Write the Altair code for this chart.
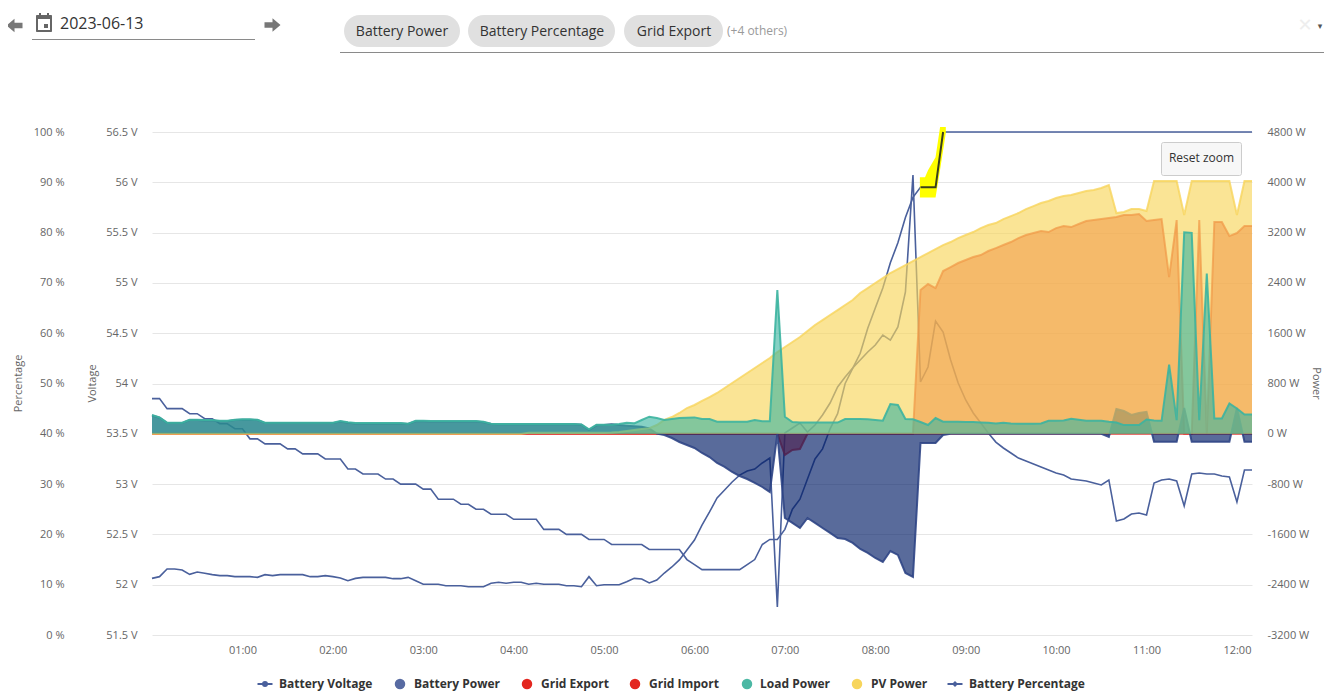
import altair as alt
import pandas as pd

FONT = "Open Sans"
LINE_BLUE = "#4a609c"
FILL_BLUE = "#001b65"
EDGE_BLUE = "#2f4585"
RED = "#e3261f"
GREEN = "#3cb4a0"
YELLOW = "#f7d55c"

# Five-minute samples, 00:00 to 12:10
battery_percentage = [
    47, 47, 45, 45, 45, 44, 44, 43, 43, 42, 42, 41, 41, 39, 39, 38, 38, 38, 37, 37,
    36, 36, 36, 35, 35, 35, 33, 33, 32, 32, 32, 31, 31, 30, 30, 30, 29, 29, 27, 27,
    27, 26, 26, 25, 25, 24, 24, 24, 23, 23, 23, 23, 21, 21, 21, 20, 20, 20, 19, 19,
    19, 18, 18, 18, 18, 18, 17, 17, 17, 17, 17, 15, 14, 13, 13, 13, 13, 13, 13, 14,
    15, 18, 19, 19, 21, 25, 27, 31, 35, 37, 41, 44, 50, 53, 56, 61, 65, 69, 74, 78,
    83, 87, 89, 89, 89, 100, 100, 100, 100, 100, 100, 100, 100, 100, 100, 100, 100, 100, 100, 100,
    100, 100, 100, 100, 100, 100, 100, 100, 100, 100, 100, 100, 100, 100, 100, 100, 100, 100, 100, 100,
    100, 100, 100, 100, 100, 100, 100,
]
battery_voltage = [
    52.063, 52.080, 52.156, 52.156, 52.146, 52.103, 52.126, 52.113, 52.100, 52.090,
    52.090, 52.080, 52.080, 52.080, 52.073, 52.100, 52.090, 52.100, 52.100, 52.100,
    52.100, 52.080, 52.080, 52.090, 52.080, 52.067, 52.040, 52.063, 52.073, 52.073,
    52.073, 52.073, 52.060, 52.060, 52.073, 52.040, 52.004, 52.004, 52.004, 51.990,
    51.990, 51.990, 51.980, 51.980, 51.980, 52.014, 52.024, 52.014, 52.024, 52.024,
    52.004, 52.014, 52.004, 52.004, 52.004, 51.990, 51.990, 51.980, 52.080, 51.990,
    52.000, 52.000, 52.000, 52.030, 52.063, 52.057, 52.017, 52.047, 52.116, 52.176,
    52.246, 52.345, 52.444, 52.593, 52.723, 52.862, 52.941, 53.021, 53.090, 53.130,
    53.150, 53.210, 53.259, 51.778, 53.508, 53.558, 53.607, 53.518, 53.587, 53.687,
    53.806, 53.965, 54.065, 54.154, 54.233, 54.313, 54.383, 54.482, 54.432, 54.562,
    54.910, 56.073, 54.015, 54.164, 54.621, 54.512, 54.233, 54.005, 53.836, 53.707,
    53.607, 53.508, 53.418, 53.359, 53.309, 53.259, 53.230, 53.200, 53.170, 53.140,
    53.110, 53.090, 53.051, 53.041, 53.031, 53.011, 52.991, 53.041, 52.633, 52.653,
    52.703, 52.713, 52.693, 53.011, 53.041, 53.051, 53.031, 52.782, 53.100, 53.110,
    53.100, 53.100, 53.081, 53.071, 52.822, 53.140, 53.140,
]
load_power = [
    298, 261, 177, 177, 177, 224, 224, 219, 219, 208, 208, 224, 230, 230, 224, 177, 177, 177, 177, 177,
    177, 177, 177, 177, 177, 203, 182, 171, 171, 171, 171, 171, 171, 171, 161, 208, 208, 203, 203, 203,
    203, 203, 203, 203, 192, 161, 155, 155, 155, 155, 155, 155, 155, 155, 155, 155, 155, 150, 71, 145,
    145, 145, 155, 177, 166, 219, 272, 251, 220, 235, 251, 256, 261, 235, 235, 192, 192, 192, 192, 192,
    220, 201, 201, 2286, 272, 188, 178, 178, 178, 178, 178, 178, 235, 235, 235, 230, 220, 209, 474, 458,
    235, 230, 188, 140, 251, 192, 191, 191, 186, 186, 180, 175, 164, 175, 164, 159, 159, 159, 164, 207,
    207, 212, 239, 223, 207, 207, 207, 191, 180, 138, 138, 138, 228, 212, 207, 1102, 217, 3206, 3196, 217,
    2549, 244, 244, 482, 403, 307, 307,
]
battery_power = [
    290, 255, 170, 170, 170, 218, 218, 212, 212, 200, 200, 218, 224, 224, 218, 170, 170, 170, 170, 170,
    170, 170, 170, 170, 170, 195, 175, 165, 165, 165, 165, 165, 165, 165, 155, 200, 200, 196, 196, 196,
    196, 196, 196, 196, 185, 155, 150, 150, 150, 150, 150, 150, 150, 150, 150, 150, 150, 145, 60, 135,
    140, 150, 140, 130, 120, 111, 85, 5, -19, -67, -130, -178, -226, -305, -369, -464, -525, -607, -671, -719,
    -782, -846, -925, 0, -1339, -1418, -1498, -1339, -1418, -1498, -1577, -1657, -1673, -1736, -1832, -1895, -1975, -2039, -1864, -1927,
    -2213, -2276, -146, -146, -146, -19, 0, 0, 0, 0, 0, 0, 0, 0, 0, 0, 0, 0, 0, 0,
    0, 0, 0, 0, 0, 0, 0, -48, 394, 362, 300, 331, 347, -125, -125, -125, -125, 410, -125, -125,
    -125, -125, -125, -125, 410, -125, -125,
]
grid_export = [
    0, 0, 0, 0, 0, 0, 0, 0, 0, 0, 0, 0, 0, 0, 0, 0, 0, 0, 0, 0,
    0, 0, 0, 0, 0, 0, 0, 0, 0, 0, 0, 0, 0, 0, 0, 0, 0, 0, 0, 0,
    0, 0, 0, 0, 0, 0, 0, 0, 0, 0, 0, 0, 0, 0, 0, 0, 0, 0, 0, 0,
    0, 0, 0, 0, 0, 0, 0, 0, 0, 0, 0, 0, 0, 0, 0, 0, 0, 0, 0, 0,
    0, 0, 0, 0, 0, 0, 0, 0, 0, 0, 0, 0, 0, 0, 0, 0, 0, 0, 0, 0,
    0, 0, 2286, 2382, 2318, 2589, 2652, 2716, 2764, 2811, 2843, 2907, 2954, 3002, 3050, 3113, 3161, 3193, 3225, 3209,
    3272, 3304, 3288, 3336, 3384, 3400, 3415, 3431, 3447, 3479, 3479, 3495, 3384, 3400, 3415, 2493, 3400, 0, 0, 3400,
    0, 3368, 3368, 3145, 3193, 3304, 3304,
]
grid_import = [
    0, 0, 0, 0, 0, 0, 0, 0, 0, 0, 0, 0, 0, 0, 0, 0, 0, 0, 0, 0,
    0, 0, 0, 0, 0, 0, 0, 0, 0, 0, 0, 0, 0, 0, 0, 0, 0, 0, 0, 0,
    0, 0, 0, 0, 0, 0, 0, 0, 0, 0, 0, 0, 0, 0, 0, 0, 0, 0, 0, 0,
    0, 0, 0, 0, 0, 0, 0, 0, 0, 0, 0, 0, 0, 0, 0, 0, 0, 0, 0, 0,
    0, 0, 0, 0, -337, -258, -242, 0, 0, 0, 0, 0, 0, 0, 0, 0, 0, 0, 0, 0,
    0, 0, 0, 0, 0, 0, 0, 0, 0, 0, 0, 0, 0, 0, 0, 0, 0, 0, 0, 0,
    0, 0, 0, 0, 0, 0, 0, 0, 0, 0, 0, 0, 0, 0, 0, 0, 0, 0, 0, 0,
    0, 0, 0, 0, 0, 0, 0,
]
pv_power = [
    0, 0, 0, 0, 0, 0, 0, 0, 0, 0, 0, 0, 0, 0, 0, 0, 0, 0, 0, 0,
    0, 0, 0, 0, 0, 0, 0, 0, 0, 0, 0, 0, 0, 0, 0, 0, 0, 0, 0, 0,
    0, 0, 0, 0, 0, 0, 0, 0, 0, 0, 15, 15, 15, 15, 15, 15, 15, 15, 15, 15,
    15, 20, 30, 45, 60, 75, 90, 140, 220, 267, 331, 410, 458, 522, 585, 649, 728, 808, 887, 967,
    1046, 1126, 1205, 1300, 1380, 1460, 1539, 1634, 1730, 1809, 1889, 1968, 2048, 2127, 2239, 2318, 2398, 2477, 2557, 2620,
    2684, 2748, 2811, 2875, 2938, 3002, 3050, 3113, 3161, 3209, 3272, 3320, 3352, 3415, 3463, 3511, 3574, 3622, 3670, 3702,
    3750, 3781, 3797, 3829, 3861, 3877, 3909, 3956, 3511, 3527, 3574, 3574, 3543, 4020, 4020, 4020, 4020, 3479, 4020, 4020,
    4020, 4020, 4020, 4020, 3479, 4020, 4020,
]
# The highlighted stretch of the percentage curve (band round it), minutes after midnight
highlight_minutes = [509.6, 513, 515, 520, 523, 526.8]
highlight_top = [91, 91, 92.4, 95, 101, 101]
highlight_bottom = [87, 87, 87, 87, 92.5, 99.8]

percent_ticks = [0, 10, 20, 30, 40, 50, 60, 70, 80, 90, 100]
voltage_ticks = [51.5, 52, 52.5, 53, 53.5, 54, 54.5, 55, 55.5, 56, 56.5]
power_ticks = [-3200, -2400, -1600, -800, 0, 800, 1600, 2400, 3200, 4000, 4800]
hour_ticks = [60, 120, 180, 240, 300, 360, 420, 480, 540, 600, 660, 720]

df = pd.DataFrame({
    "minute": [5 * i for i in range(len(battery_percentage))],
    "pct": battery_percentage,
    "volt": battery_voltage,
    "load": load_power,
    "batt": battery_power,
    "exp": grid_export,
    "imp": grid_import,
    "pv": pv_power,
})
hl = pd.DataFrame({"minute": highlight_minutes, "top": highlight_top, "bottom": highlight_bottom})

X = alt.X(
    "minute:Q",
    title=None,
    scale=alt.Scale(domain=[0, 730], nice=False, zero=False),
    axis=alt.Axis(
        values=hour_ticks,
        labelExpr="(datum.value / 60 < 10 ? '0' : '') + (datum.value / 60) + ':00'",
        grid=False, domain=False, ticks=False, labelPadding=9, labelFontSize=11,
        labelColor="#666666", labelFont=FONT,
    ),
)
pct_scale = alt.Scale(domain=[0, 100], nice=False, zero=False)
volt_scale = alt.Scale(domain=[51.5, 56.5], nice=False, zero=False)
pow_scale = alt.Scale(domain=[-3200, 4800], nice=False, zero=False)

AX = dict(
    domain=False, ticks=False, labelFontSize=11, labelColor="#666666", labelFont=FONT,
    titleFontSize=11, titleColor="#666666", titleFont=FONT, titleFontWeight="normal",
    titleY=251, titleAlign="center", titleBaseline="middle",
)

layers = []
layers.append(
    alt.Chart(df).mark_line(color=LINE_BLUE, strokeWidth=1.6).encode(
        x=X,
        y=alt.Y("pct:Q", scale=pct_scale, axis=alt.Axis(
            values=percent_ticks, labelExpr="datum.value + ' %'", title="Percentage", orient="left",
            grid=True, gridColor="#e6e6e6", gridWidth=1, labelPadding=88,
            titleX=-134, titleAngle=270, **AX,
        )),
    )
)
layers.append(
    alt.Chart(df).mark_line(color=LINE_BLUE, strokeWidth=1.6).encode(
        x=X,
        y=alt.Y("volt:Q", scale=volt_scale, axis=alt.Axis(
            values=voltage_ticks, labelExpr="datum.value + ' V'", title="Voltage", orient="left",
            grid=False, labelPadding=15, titleX=-60, titleAngle=270, **AX,
        )),
    )
)

P_AXIS = alt.Axis(
    values=power_ticks, labelExpr="datum.value + ' W'", title="Power", orient="right",
    grid=False, labelPadding=15, titleX=63, titleAngle=90, **AX,
)


def power_area(col, color, line_color, fill_op, line_op, width, axis_obj=None):
    y = alt.Y(f"{col}:Q", scale=pow_scale, axis=axis_obj, stack=None)
    return [
        alt.Chart(df).mark_area(color=color, opacity=fill_op).encode(x=X, y=y),
        alt.Chart(df).mark_line(color=line_color, strokeWidth=width, opacity=line_op).encode(
            x=X, y=alt.Y(f"{col}:Q", scale=pow_scale, axis=None)),
    ]


layers += power_area("exp", RED, RED, 0.55, 0.7, 2)
layers += power_area("imp", RED, RED, 0.6, 0.8, 2)
layers += power_area("batt", FILL_BLUE, EDGE_BLUE, 0.65, 0.9, 2, P_AXIS)
layers += power_area("pv", YELLOW, YELLOW, 0.65, 0.8, 2)
layers += power_area("load", GREEN, GREEN, 0.62, 0.9, 2)

# Highlight round the end of the charge ramp
layers.append(
    alt.Chart(hl).mark_area(color="#ffff00", opacity=1).encode(
        x=X,
        y=alt.Y("top:Q", scale=pct_scale, axis=None),
        y2="bottom:Q",
    )
)
layers.append(
    alt.Chart(df[(df.index >= 102) & (df.index <= 105)]).mark_line(color="#3a3f1c", strokeWidth=2).encode(
        x=X, y=alt.Y("pct:Q", scale=pct_scale, axis=None))
)

ONE = pd.DataFrame({"k": [0]})


# ---- Page furniture, in page coordinates ----
def text(x, y, label, size=11, color="#333333", weight="normal", align="left", font=FONT):
    return alt.Chart(ONE).mark_text(
        align=align, baseline="middle", fontSize=size, color=color, fontWeight=weight, font=font,
    ).encode(x=alt.value(x - 152), y=alt.value(y - 132), text=alt.value(label))


def rect(x0, y0, x1, y1, fill, stroke=None, radius=0):
    kw = {"stroke": stroke, "strokeWidth": 1} if stroke else {}
    return alt.Chart(ONE).mark_rect(color=fill, opacity=1, cornerRadius=radius, **kw).encode(
        x=alt.value(x0 - 152), x2=alt.value(x1 - 152), y=alt.value(y0 - 132), y2=alt.value(y1 - 132))


def hline(x0, x1, y, color, width=1):
    return alt.Chart(ONE).mark_rule(color=color, strokeWidth=width).encode(
        x=alt.value(x0 - 152), x2=alt.value(x1 - 152), y=alt.value(y - 132))


def dot(x, y, color, shape="circle", size=110):
    return alt.Chart(ONE).mark_point(shape=shape, filled=True, opacity=1, color=color, size=size).encode(
        x=alt.value(x - 152), y=alt.value(y - 132))


chips = [
    ("Battery Power", 344, 460, 402),
    ("Battery Percentage", 468, 615, 542),
    ("Grid Export", 624, 723, 674),
]
legend_items = [
    ("Battery Voltage", 265, 279, LINE_BLUE, "circle", True),
    ("Battery Power", 400, 414, "#586ba2", "circle", False),
    ("Grid Export", 527, 541, RED, "circle", False),
    ("Grid Import", 635, 649, RED, "circle", False),
    ("Load Power", 747, 760, "#4cb8a4", "circle", False),
    ("PV Power", 857, 871, YELLOW, "circle", False),
    ("Battery Percentage", 955, 969, LINE_BLUE, "diamond", True),
]
ARROW_LEFT = "M-1,0L0,-0.85L0,-0.35L1,-0.35L1,0.35L0,0.35L0,0.85Z"
ARROW_RIGHT = "M1,0L0,-0.85L0,-0.35L-1,-0.35L-1,0.35L0,0.35L0,0.85Z"

ui = []
ui.append(dot(14.5, 25.5, "#777777", ARROW_LEFT, 256))
ui.append(dot(272.5, 25, "#777777", ARROW_RIGHT, 256))
ui.append(rect(36, 15, 52, 32, "#666666", radius=1))
ui.append(rect(38, 19, 50, 30, "#ffffff"))
ui.append(rect(39, 13, 41, 17, "#666666"))
ui.append(rect(47, 13, 49, 17, "#666666"))
ui.append(rect(44, 24, 48, 28, "#666666"))
ui.append(text(60, 24, "2023-06-13", size=16, color="#333333"))
ui.append(hline(32, 255, 39.5, "#8a8a8a"))
ui.append(hline(340, 1324, 52.5, "#8a8a8a"))
for label, x0, x1, xc in chips:
    ui.append(rect(x0, 15, x1, 47, "#e0e0e0", radius=16))
    ui.append(text(xc, 32, label, size=14, color="#333333", align="center"))
ui.append(text(727, 31, "(+4 others)", size=12, color="#9a9a9a"))
ui.append(text(1305, 26, "\u2715", size=18, color="#eeeeee", align="center", font="DejaVu Sans"))
ui.append(text(1320, 26, "\u25BE", size=9, color="#555555", align="center", font="DejaVu Sans"))
ui.append(rect(1161.5, 142.5, 1241.5, 175.5, "#f7f7f7", stroke="#cccccc", radius=2))
ui.append(text(1201.5, 158, "Reset zoom", size=12, color="#333333", align="center"))
for label, xm, xt, col, shape, with_line in legend_items:
    if with_line:
        ui.append(hline(xm - 7.5, xm + 7.5, 684, col, 2))
    ui.append(dot(xm, 684, col, shape, 36 if with_line else 110))
    ui.append(text(xt, 684, label, size=12, color="#333333", weight="bold"))

chart = (
    alt.layer(*layers, *ui)
    .resolve_scale(y="independent")
    .properties(
        width=1100,
        height=503,
        padding={"left": 144, "top": 124, "right": 72, "bottom": 58},
        autosize=alt.AutoSizeParams(type="none"),
    )
    .configure_view(stroke=None)
)
chart.save("out.html", embed_options={"renderer": "svg", "actions": False})
